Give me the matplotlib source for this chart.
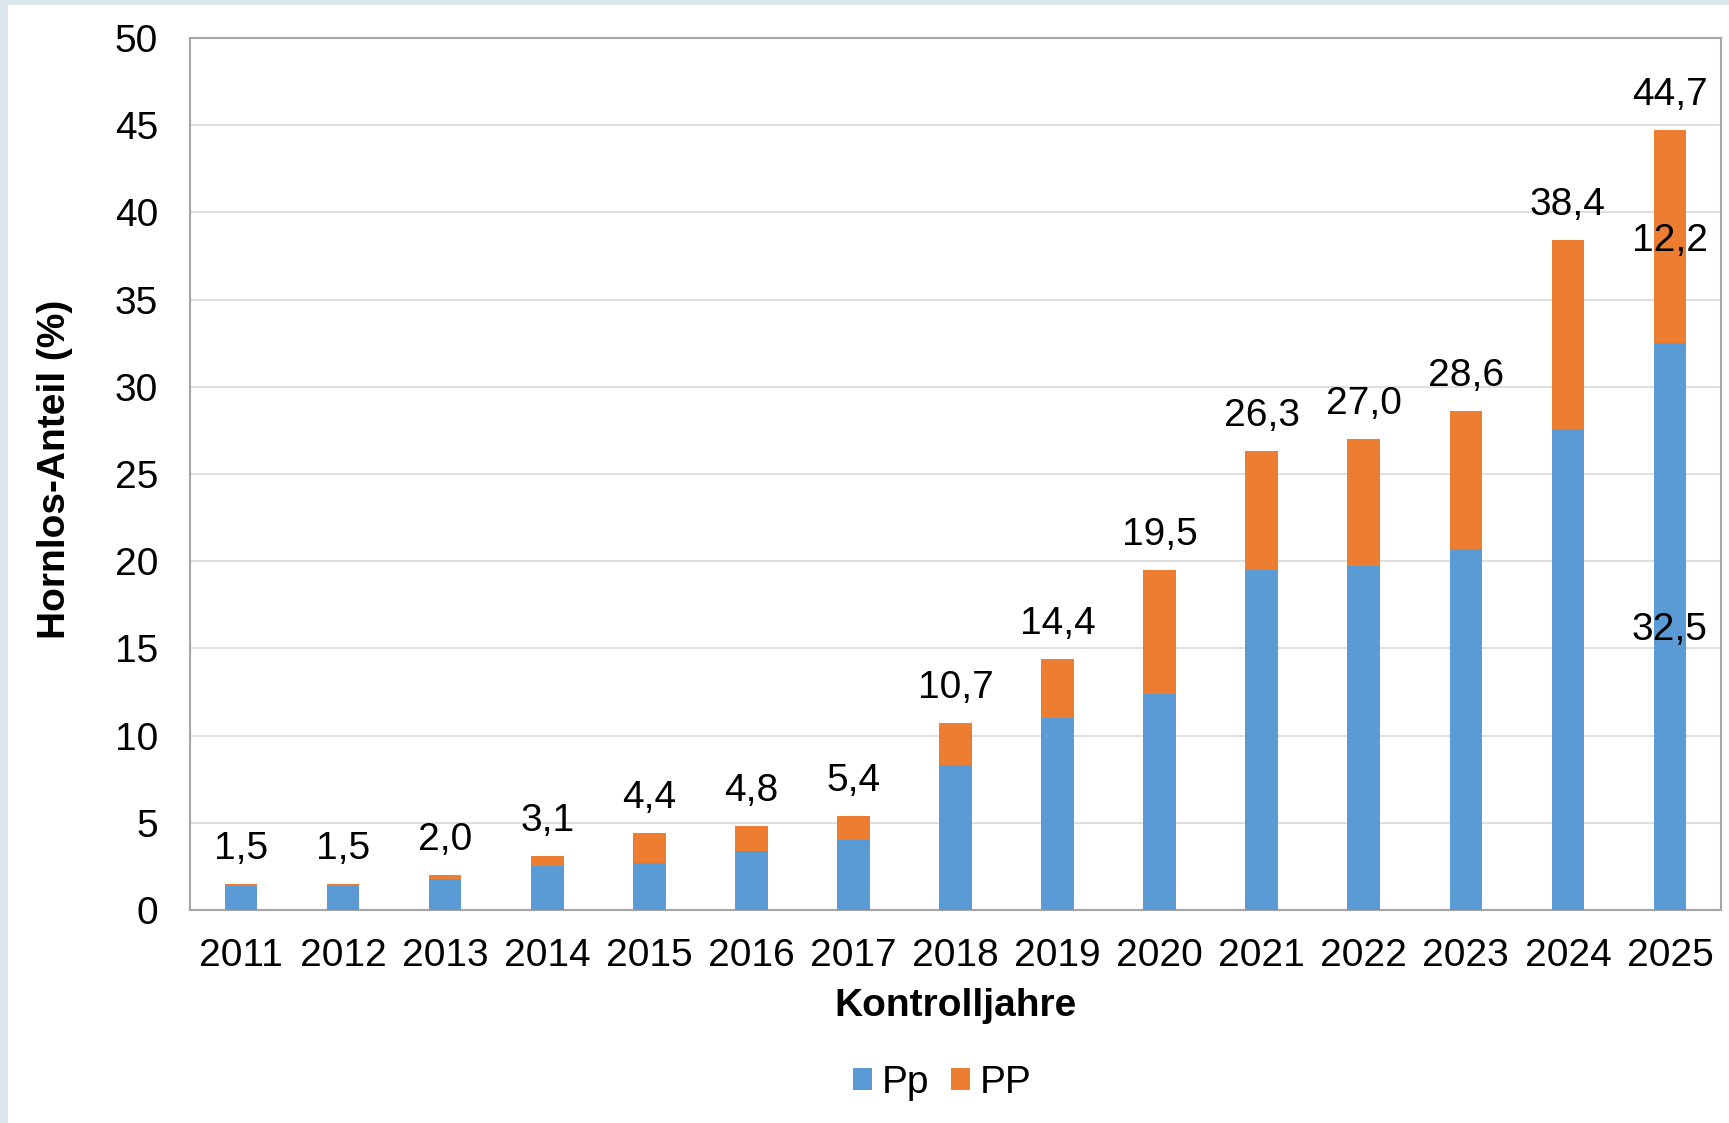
import matplotlib
matplotlib.use("Agg")
import matplotlib.pyplot as plt
from matplotlib.patches import Patch, Rectangle

plt.rcParams['font.family'] = ['Liberation Sans', 'DejaVu Sans']

years = ['2011', '2012', '2013', '2014', '2015', '2016', '2017', '2018',
         '2019', '2020', '2021', '2022', '2023', '2024', '2025']
pp_lower = [1.35, 1.4, 1.8, 2.5, 2.7, 3.4, 4.0, 8.3, 11.0, 12.4, 19.5, 19.7, 20.7, 27.6, 32.5]   # Pp
pp_upper = [0.15, 0.1, 0.2, 0.6, 1.7, 1.4, 1.4, 2.4, 3.4, 7.1, 6.8, 7.3, 7.9, 10.8, 12.2]       # PP
totals = [1.5, 1.5, 2.0, 3.1, 4.4, 4.8, 5.4, 10.7, 14.4, 19.5, 26.3, 27.0, 28.6, 38.4, 44.7]
yticks = [0, 5, 10, 15, 20, 25, 30, 35, 40, 45, 50]

BLUE = '#5B9BD5'
ORANGE = '#ED7D31'
W, H = 1729, 1123
FS = 28

fig = plt.figure(figsize=(W / 100, H / 100), dpi=100)
fig.patch.set_facecolor('#DCE7ED')
fig.add_artist(Rectangle((8 / W, 0), 1 - 8 / W, 1 - 5 / H, transform=fig.transFigure,
                         facecolor='white', edgecolor='none', zorder=-10))

ax = fig.add_axes([190 / W, 1 - 910 / H, (1721 - 190) / W, (910 - 38) / H])
ax.set_facecolor('white')
x = list(range(len(years)))
ax.bar(x, pp_lower, width=0.32, color=BLUE, zorder=3, label='Pp')
ax.bar(x, pp_upper, width=0.32, bottom=pp_lower, color=ORANGE, zorder=3, label='PP')

ax.set_xlim(-0.5, len(years) - 0.5)
ax.set_ylim(0, 50)
ax.set_yticks(yticks)
ax.set_yticklabels([str(v) for v in yticks])
ax.set_xticks(x)
ax.set_xticklabels(years)
ax.tick_params(axis='both', length=0, labelsize=FS, colors='black')
ax.tick_params(axis='x', pad=20)
ax.tick_params(axis='y', pad=23)
ax.yaxis.grid(True, color='#d9d9d9', linewidth=1.2, zorder=0)
ax.set_axisbelow(True)
for s in ax.spines.values():
    s.set_color('#a6a6a6')
    s.set_linewidth(1.5)

def fmt(v):
    return f"{v:.1f}".replace('.', ',')

for i, t in enumerate(totals):
    ax.annotate(fmt(t), (i, t), xytext=(0, 18), textcoords='offset points',
                ha='center', va='baseline', fontsize=FS, color='black', zorder=5)

# segment labels for the last year
i = len(years) - 1
ax.annotate(fmt(pp_lower[i]), (i, pp_lower[i] / 2), xytext=(0, -10), textcoords='offset points',
            ha='center', va='baseline', fontsize=FS, color='black', zorder=5)
ax.annotate(fmt(pp_upper[i]), (i, pp_lower[i] + pp_upper[i] / 2), xytext=(0, -10),
            textcoords='offset points', ha='center', va='baseline', fontsize=FS,
            color='black', zorder=5)

fig.text(955 / W, 1 - 1006 / H, 'Kontrolljahre', ha='center', va='center',
         fontsize=FS, fontweight='bold', color='black')
fig.text(55 / W, 1 - 469 / H, 'Hornlos-Anteil (%)', ha='center', va='center',
         rotation=90, fontsize=FS, fontweight='bold', color='black')

handles = [Patch(facecolor=BLUE, edgecolor='none', label='Pp'),
           Patch(facecolor=ORANGE, edgecolor='none', label='PP')]
fig.legend(handles=handles, loc='center', bbox_to_anchor=(942 / W, 1 - 1083 / H),
           ncol=2, frameon=False, fontsize=FS, handlelength=0.5, handleheight=0.5,
           handletextpad=0.25, columnspacing=0.55)

fig.savefig('out.png', dpi=100, facecolor=fig.get_facecolor())
